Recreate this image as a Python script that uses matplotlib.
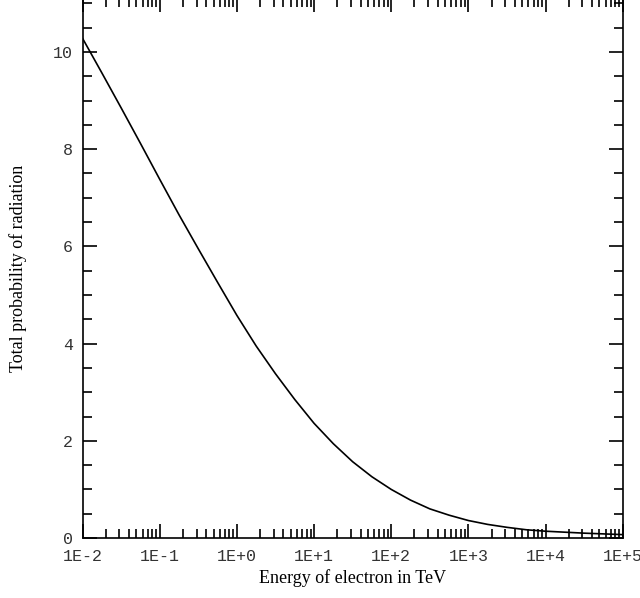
import matplotlib.pyplot as plt
import numpy as np
from matplotlib.ticker import LogLocator, FuncFormatter, MultipleLocator, NullFormatter

# log10 of electron energy (TeV) and total probability
log_energy = [-2.0, -1.75, -1.5, -1.25, -1.0, -0.75, -0.5, -0.25, 0.0, 0.25,
              0.5, 0.75, 1.0, 1.25, 1.5, 1.75, 2.0, 2.25, 2.5, 2.75,
              3.0, 3.25, 3.5, 3.75, 4.0, 4.25, 4.5, 4.75, 5.0]
probability = [10.28, 9.57, 8.85, 8.12, 7.38, 6.65, 5.95, 5.26, 4.58, 3.95,
               3.38, 2.85, 2.36, 1.94, 1.57, 1.26, 1.00, 0.78, 0.60, 0.47,
               0.36, 0.28, 0.22, 0.17, 0.14, 0.12, 0.10, 0.085, 0.07]

energy = 10.0 ** np.array(log_energy)

fig = plt.figure(figsize=(6.4, 5.98), dpi=100)
ax = fig.add_axes([0.129, 0.1003, 0.844, 0.903])

ax.plot(energy, probability, color='black', lw=1.2)

ax.set_xscale('log')
ax.set_xlim(1e-2, 1e5)
ax.set_ylim(0, 11.11)

ax.xaxis.set_major_locator(LogLocator(base=10, numticks=20))
ax.xaxis.set_minor_locator(LogLocator(base=10, subs=np.arange(2, 10), numticks=20))
ax.xaxis.set_minor_formatter(NullFormatter())
ax.xaxis.set_major_formatter(FuncFormatter(lambda v, p: f"1E{int(round(np.log10(v))):+d}"))
ax.yaxis.set_major_locator(MultipleLocator(2))
ax.yaxis.set_minor_locator(MultipleLocator(0.5))

for s in ax.spines.values():
    s.set_linewidth(1.2)

ax.tick_params(which='both', direction='in', top=True, right=True, width=1.2)
ax.tick_params(which='major', length=10, pad=8)
ax.tick_params(which='minor', length=6.5)
ax.tick_params(axis='y', which='major', pad=7)

for lab in ax.get_xticklabels() + ax.get_yticklabels():
    lab.set_family('Liberation Mono')
    lab.set_fontsize(12)
    lab.set_color('#333333')

ax.set_xlabel('Energy of electron in TeV', family='Liberation Serif', fontsize=13)
ax.set_ylabel('Total probability of radiation', family='Liberation Serif', fontsize=13)
ax.xaxis.set_label_coords(0.5, -0.058)
ax.yaxis.set_label_coords(-0.102, 0.5)

plt.savefig('out.png', dpi=100)
